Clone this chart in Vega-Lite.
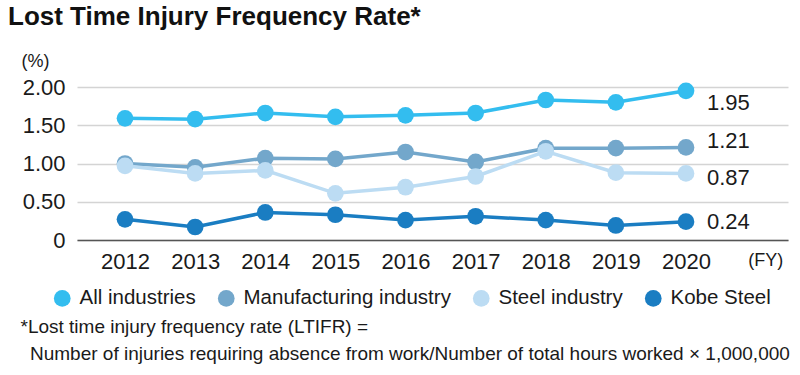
{
  "$schema": "https://vega.github.io/schema/vega-lite/v6.json",
  "width": 711,
  "height": 153,
  "autosize": {"type": "none"},
  "padding": {"left": 77, "top": 87, "right": 12, "bottom": 135},
  "background": "white",
  "config": {
    "view": {"stroke": null},
    "font": "Liberation Sans"
  },
  "title": {
    "text": "Lost Time Injury Frequency Rate*",
    "anchor": "start",
    "frame": "group",
    "fontSize": 26,
    "fontWeight": "bold",
    "color": "#111111",
    "dx": -69,
    "offset": 22
  },
  "data": {
    "values": [
      {"series": "All industries", "year": 2012, "value": 1.59},
      {"series": "All industries", "year": 2013, "value": 1.58},
      {"series": "All industries", "year": 2014, "value": 1.66},
      {"series": "All industries", "year": 2015, "value": 1.61},
      {"series": "All industries", "year": 2016, "value": 1.63},
      {"series": "All industries", "year": 2017, "value": 1.66},
      {"series": "All industries", "year": 2018, "value": 1.83},
      {"series": "All industries", "year": 2019, "value": 1.80},
      {"series": "All industries", "year": 2020, "value": 1.95},
      {"series": "Manufacturing industry", "year": 2012, "value": 1.00},
      {"series": "Manufacturing industry", "year": 2013, "value": 0.95},
      {"series": "Manufacturing industry", "year": 2014, "value": 1.07},
      {"series": "Manufacturing industry", "year": 2015, "value": 1.06},
      {"series": "Manufacturing industry", "year": 2016, "value": 1.15},
      {"series": "Manufacturing industry", "year": 2017, "value": 1.02},
      {"series": "Manufacturing industry", "year": 2018, "value": 1.20},
      {"series": "Manufacturing industry", "year": 2019, "value": 1.20},
      {"series": "Manufacturing industry", "year": 2020, "value": 1.21},
      {"series": "Steel industry", "year": 2012, "value": 0.97},
      {"series": "Steel industry", "year": 2013, "value": 0.87},
      {"series": "Steel industry", "year": 2014, "value": 0.91},
      {"series": "Steel industry", "year": 2015, "value": 0.61},
      {"series": "Steel industry", "year": 2016, "value": 0.69},
      {"series": "Steel industry", "year": 2017, "value": 0.83},
      {"series": "Steel industry", "year": 2018, "value": 1.16},
      {"series": "Steel industry", "year": 2019, "value": 0.88},
      {"series": "Steel industry", "year": 2020, "value": 0.87},
      {"series": "Kobe Steel", "year": 2012, "value": 0.27},
      {"series": "Kobe Steel", "year": 2013, "value": 0.17},
      {"series": "Kobe Steel", "year": 2014, "value": 0.36},
      {"series": "Kobe Steel", "year": 2015, "value": 0.33},
      {"series": "Kobe Steel", "year": 2016, "value": 0.26},
      {"series": "Kobe Steel", "year": 2017, "value": 0.31},
      {"series": "Kobe Steel", "year": 2018, "value": 0.26},
      {"series": "Kobe Steel", "year": 2019, "value": 0.19},
      {"series": "Kobe Steel", "year": 2020, "value": 0.24}
    ]
  },
  "encoding": {
    "x": {
      "field": "year",
      "type": "quantitative",
      "scale": {"domain": [2011.315, 2021.455], "nice": false, "zero": false},
      "axis": {
        "values": [2012, 2013, 2014, 2015, 2016, 2017, 2018, 2019, 2020, 2021.13],
        "labelExpr": "datum.value > 2020.5 ? '(FY)' : format(datum.value, 'd')",
        "labelFontSize": {"condition": {"test": "datum.value > 2020.5", "value": 18}, "value": 22},
        "labelColor": "#1a1a1a",
        "labelPadding": 11,
        "labelBaseline": "top",
        "ticks": false,
        "grid": false,
        "domainColor": "#555555",
        "domainWidth": 1.5,
        "labelFlush": false,
        "labelOverlap": false,
        "title": ["*Lost time injury frequency rate (LTIFR) =", "\u200b\u2002Number of injuries requiring absence from work/Number of total hours worked \u00d7 1,000,000"],
        "titleFontSize": 19,
        "titleFontWeight": "normal",
        "titleColor": "#1a1a1a",
        "titleAlign": "left",
        "titleAngle": 0,
        "titleBaseline": "top",
        "titleLineHeight": 27,
        "titleX": -57,
        "titleY": 77
      }
    },
    "y": {
      "field": "value",
      "type": "quantitative",
      "scale": {"domain": [0, 2], "nice": false},
      "axis": {
        "values": [0, 0.5, 1, 1.5, 2],
        "labelExpr": "datum.value == 0 ? '0' : format(datum.value, '.2f')",
        "labelFontSize": 22,
        "labelColor": "#1a1a1a",
        "labelPadding": 12,
        "ticks": false,
        "domain": false,
        "gridColor": "#d4d4d4",
        "gridWidth": 1.5,
        "title": "(%)",
        "titleFontSize": 18,
        "titleFontWeight": "normal",
        "titleColor": "#1a1a1a",
        "titleAngle": 0,
        "titleAlign": "left",
        "titleBaseline": "middle",
        "titleX": -56,
        "titleY": -26
      }
    },
    "color": {
      "field": "series",
      "type": "nominal",
      "scale": {
        "domain": ["All industries", "Manufacturing industry", "Steel industry", "Kobe Steel"],
        "range": ["#33bdef", "#73a7cb", "#bcdcf3", "#1a7dc2"]
      },
      "legend": {
        "title": null,
        "orient": "none",
        "direction": "horizontal",
        "legendX": -25,
        "legendY": 201,
        "symbolType": "circle",
        "symbolSize": 280,
        "symbolOpacity": 1,
        "symbolStrokeWidth": 0,
        "labelFontSize": 20.5,
        "labelLimit": 400,
        "labelColor": "#1a1a1a",
        "labelOffset": 7,
        "columnPadding": 20
      }
    }
  },
  "layer": [
    {"mark": {"type": "line", "strokeWidth": 3.5}},
    {"mark": {"type": "point", "filled": true, "size": 280, "opacity": 1}},
    {
      "transform": [{"filter": "datum.year == 2020 && datum.series == 'All industries'"}],
      "mark": {"type": "text", "align": "left", "baseline": "middle", "dx": 21, "dy": 12, "fontSize": 22},
      "encoding": {"text": {"field": "value", "type": "quantitative", "format": ".2f"}, "color": {"value": "#1a1a1a"}}
    },
    {
      "transform": [{"filter": "datum.year == 2020 && datum.series == 'Manufacturing industry'"}],
      "mark": {"type": "text", "align": "left", "baseline": "middle", "dx": 21, "dy": -6, "fontSize": 22},
      "encoding": {"text": {"field": "value", "type": "quantitative", "format": ".2f"}, "color": {"value": "#1a1a1a"}}
    },
    {
      "transform": [{"filter": "datum.year == 2020 && datum.series == 'Steel industry'"}],
      "mark": {"type": "text", "align": "left", "baseline": "middle", "dx": 21, "dy": 5, "fontSize": 22},
      "encoding": {"text": {"field": "value", "type": "quantitative", "format": ".2f"}, "color": {"value": "#1a1a1a"}}
    },
    {
      "transform": [{"filter": "datum.year == 2020 && datum.series == 'Kobe Steel'"}],
      "mark": {"type": "text", "align": "left", "baseline": "middle", "dx": 21, "dy": 0, "fontSize": 22},
      "encoding": {"text": {"field": "value", "type": "quantitative", "format": ".2f"}, "color": {"value": "#1a1a1a"}}
    }
  ]
}
